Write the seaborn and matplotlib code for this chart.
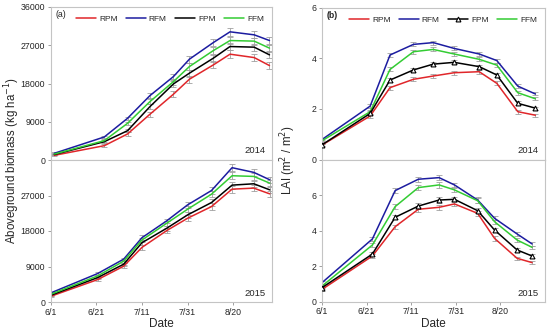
import matplotlib
matplotlib.use("Agg")
import matplotlib.pyplot as plt
import seaborn as sns
import numpy as np
import pandas as pd

treatments = ["RPM", "RFM", "FPM", "FFM"]
colors = {"RPM": "#e0262a", "RFM": "#1c1ca0", "FPM": "#000000", "FFM": "#33cc33"}

tick_days = [0, 20, 40, 60, 80]
tick_labels = ["6/1", "6/21", "7/11", "7/31", "8/20"]

# sampling days (days after 6/1)
bio_days_2014 = [1.6, 23.5, 33.7, 43.5, 53.8, 60.8, 71.3, 78.6, 89.2, 95.9]
bio_days_2015 = [0, 20.6, 32, 40, 50.8, 60, 70.5, 79.5, 89, 96]
lai_days_2014 = [0, 21.6, 30.5, 41, 49.9, 59.3, 70.5, 78.4, 87.8, 95.7]
lai_days_2015 = [0, 22.6, 32.8, 43.2, 52.5, 59.4, 69.8, 77.4, 87.5, 94.2]

# Aboveground biomass (kg ha-1)
bio_2014 = {
    "RPM": [1100, 3370, 6130, 10770, 15480, 19010, 22380, 24900, 24100, 22220],
    "RFM": [1580, 5420, 9820, 15150, 19630, 23720, 27640, 30160, 29450, 28110],
    "FPM": [1300, 4310, 6900, 12560, 17900, 20430, 23960, 26700, 26550, 24740],
    "FFM": [1400, 4550, 8640, 13740, 18450, 21990, 25750, 28110, 27970, 26320],
}
bio_2015 = {
    "RPM": [1440, 5690, 9080, 13840, 18080, 21230, 24200, 28610, 28870, 27420],
    "RFM": [2290, 7220, 10870, 16300, 20550, 24620, 28270, 34050, 32860, 30990],
    "FPM": [1700, 6200, 9590, 15030, 18680, 22080, 25220, 29630, 29970, 28440],
    "FFM": [1950, 6620, 10360, 15710, 19950, 23520, 27340, 32010, 31840, 30140],
}
bio_err_2014 = [200, 300, 400, 600, 700, 800, 800, 900, 800, 800]
bio_err_2015 = [200, 300, 400, 600, 600, 700, 800, 900, 800, 700]

# LAI (m2 / m2)
lai_2014 = {
    "RPM": [0.57, 1.72, 2.84, 3.17, 3.30, 3.43, 3.47, 3.01, 1.89, 1.75],
    "RFM": [0.79, 2.11, 4.13, 4.55, 4.62, 4.39, 4.17, 3.91, 2.90, 2.59],
    "FPM": [0.58, 1.82, 3.14, 3.54, 3.77, 3.84, 3.67, 3.34, 2.22, 2.03],
    "FFM": [0.74, 1.89, 3.56, 4.26, 4.35, 4.17, 3.96, 3.73, 2.64, 2.40],
}
lai_2015 = {
    "RPM": [0.69, 2.57, 4.22, 5.20, 5.31, 5.50, 4.97, 3.56, 2.44, 2.20],
    "RFM": [1.07, 3.53, 6.25, 6.89, 6.98, 6.57, 5.72, 4.69, 3.81, 3.25],
    "FPM": [0.79, 2.68, 4.75, 5.38, 5.72, 5.76, 5.12, 4.03, 2.91, 2.57],
    "FFM": [0.88, 3.19, 5.35, 6.42, 6.57, 6.29, 5.68, 4.50, 3.47, 3.06],
}
lai_err_2014 = [0.05, 0.08, 0.08, 0.08, 0.08, 0.08, 0.08, 0.08, 0.08, 0.06]
lai_err_2015 = [0.08, 0.1, 0.12, 0.15, 0.15, 0.12, 0.15, 0.12, 0.1, 0.1]

sns.set_style("white")
plt.rcParams["font.family"] = ["Liberation Sans", "DejaVu Sans"]

fig = plt.figure(figsize=(5.5, 3.32), dpi=100)
W, H = 550.0, 332.0

def add_ax(x0, x1, ytop, ybot):
    return fig.add_axes([x0 / W, 1 - ybot / H, (x1 - x0) / W, (ybot - ytop) / H])

axA1 = add_ax(50.7, 272, 7, 160)
axA2 = add_ax(50.7, 272, 160, 302)
axB1 = add_ax(322, 545, 7.7, 159.5)
axB2 = add_ax(322, 545, 159.5, 301.7)

spine_col = "#c4c4c4"

def draw(ax, days, data, err, markers):
    rows = []
    for t in treatments:
        for d, v in zip(days, data[t]):
            rows.append({"day": d, "value": v, "trt": t})
    df = pd.DataFrame(rows)
    for t in treatments:
        sub = df[df.trt == t]
        ax.errorbar(sub["day"], sub["value"], yerr=err, fmt="none",
                    ecolor="#a0a0a0", elinewidth=0.6, capsize=2, capthick=0.6, zorder=1)
    for t in treatments:
        sub = df[df.trt == t]
        if markers and t == "FPM":
            sns.lineplot(data=sub, x="day", y="value", ax=ax, color=colors[t], lw=1.1,
                         marker="^", markersize=3.5, markerfacecolor="white",
                         markeredgecolor="black", markeredgewidth=0.8, label=t, zorder=3)
        else:
            sns.lineplot(data=sub, x="day", y="value", ax=ax, color=colors[t], lw=1.1,
                         label=t, zorder=2)

def style(ax, xmax, ylim, yticks, top):
    ax.set_xlim(0, xmax)
    ax.set_ylim(*ylim)
    ax.set_yticks(yticks)
    ax.set_yticklabels([str(v) for v in yticks], fontsize=6.3)
    ax.set_xticks(tick_days)
    if top:
        ax.set_xticklabels([])
        ax.tick_params(axis="x", length=0)
    else:
        ax.set_xticklabels(tick_labels, fontsize=6.3)
    for s in ax.spines.values():
        s.set_color(spine_col)
        s.set_linewidth(0.8)
    ax.tick_params(axis="both", direction="out", length=2, width=0.6, color="#909090", pad=2)
    ax.tick_params(axis="y", left=True)
    ax.tick_params(axis="x", bottom=not top)
    ax.set_xlabel("")
    ax.set_ylabel("")

draw(axA1, bio_days_2014, bio_2014, bio_err_2014, False)
draw(axA2, bio_days_2015, bio_2015, bio_err_2015, False)
draw(axB1, lai_days_2014, lai_2014, lai_err_2014, True)
draw(axB2, lai_days_2015, lai_2015, lai_err_2015, True)

style(axA1, 97, (0, 36000), [0, 9000, 18000, 27000, 36000], True)
style(axA2, 97, (0, 36000), [0, 9000, 18000, 27000], False)
style(axB1, 100, (0, 6), [0, 2, 4, 6], True)
style(axB2, 100, (0, 8), [0, 2, 4, 6], False)

for ax in (axA1, axB1):
    ax.legend(loc="upper right", bbox_to_anchor=(0.99, 0.985), ncol=4, frameon=False,
              fontsize=6, handlelength=2.4, handletextpad=0.35, columnspacing=1.0,
              borderaxespad=0.3)
for ax in (axA2, axB2):
    lg = ax.get_legend()
    if lg is not None:
        lg.remove()

axA1.text(0.02, 0.95, "(a)", transform=axA1.transAxes, fontsize=6.3, va="center", ha="left")
axB1.text(0.02, 0.95, "(b)", transform=axB1.transAxes, fontsize=6.3, va="center", ha="left",
          fontweight="bold")
for ax, yr in ((axA1, "2014"), (axA2, "2015"), (axB1, "2014"), (axB2, "2015")):
    ax.text(0.97, 0.06, yr, transform=ax.transAxes, fontsize=6.8, ha="right", va="center")

fig.text(12 / W, 1 - 160 / H, "Aboveground biomass (kg ha$^{-1}$)", rotation=90,
         fontsize=8.3, ha="center", va="center")
fig.text(288 / W, 1 - 160 / H, "LAI (m$^{2}$ / m$^{2}$)", rotation=90,
         fontsize=8.3, ha="center", va="center")
fig.text(161 / W, 1 - 324 / H, "Date", fontsize=8.5, ha="center", va="center")
fig.text(433 / W, 1 - 324 / H, "Date", fontsize=8.5, ha="center", va="center")

fig.savefig("out.png", dpi=100)
